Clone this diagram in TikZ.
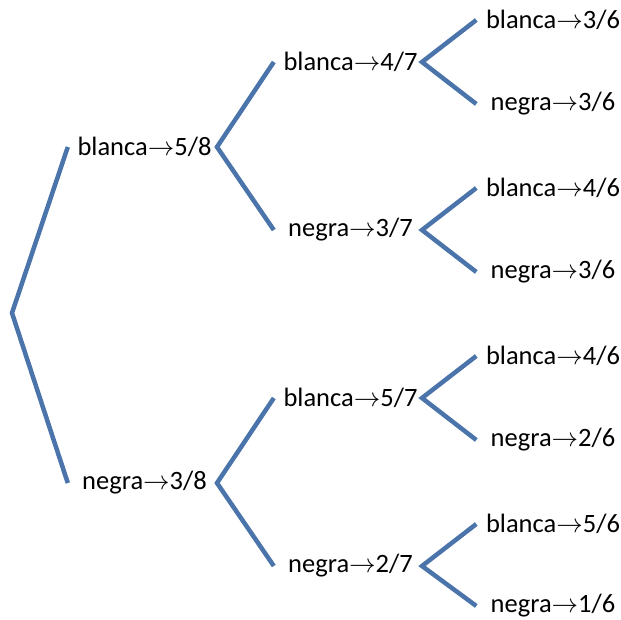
\RequirePackage{fix-cm}
\documentclass[tikz,border=0pt]{standalone}
\usepackage{fontspec}
\setmainfont{Carlito}
\definecolor{branch}{RGB}{74,116,170}
\newcommand{\giveArrow}{$\rightarrow$}
\begin{document}
\begin{tikzpicture}[x=1pt,y=-1pt,
  edge/.style={draw=branch,line width=4.5pt,line join=miter},
  lbl/.style={inner sep=0pt,minimum width=153pt,align=center,
    font=\fontsize{26.5}{30}\selectfont}]
\useasboundingbox (0,0) rectangle (621,620);
% branching points
\coordinate (r)  at (12,313);
\coordinate (vb) at (217,147);
\coordinate (vn) at (217,483);
\coordinate (vbb) at (422,62);
\coordinate (vbn) at (422,230);
\coordinate (vnb) at (422,398);
\coordinate (vnn) at (422,566);
% first draw
\node[lbl] (b)  at (144.5,147) {blanca\giveArrow5/8};
\node[lbl] (n)  at (144.5,483) {negra\giveArrow3/8};
% second draw
\node[lbl] (bb) at (350.5,62)  {blanca\giveArrow4/7};
\node[lbl] (bn) at (350.5,230) {negra\giveArrow3/7};
\node[lbl] (nb) at (350.5,398) {blanca\giveArrow5/7};
\node[lbl] (nn) at (350.5,566) {negra\giveArrow2/7};
% third draw
\node[lbl] (bbb) at (553,20)  {blanca\giveArrow3/6};
\node[lbl] (bbn) at (553,104) {negra\giveArrow3/6};
\node[lbl] (bnb) at (553,188) {blanca\giveArrow4/6};
\node[lbl] (bnn) at (553,272) {negra\giveArrow3/6};
\node[lbl] (nbb) at (553,356) {blanca\giveArrow4/6};
\node[lbl] (nbn) at (553,440) {negra\giveArrow2/6};
\node[lbl] (nnb) at (553,524) {blanca\giveArrow5/6};
\node[lbl] (nnn) at (553,606) {negra\giveArrow1/6};
% branches
\draw[edge] (b.west) -- (r) -- (n.west);
\draw[edge] (bb.west) -- (vb) -- (bn.west);
\draw[edge] (nb.west) -- (vn) -- (nn.west);
\draw[edge] (bbb.west) -- (vbb) -- (bbn.west);
\draw[edge] (bnb.west) -- (vbn) -- (bnn.west);
\draw[edge] (nbb.west) -- (vnb) -- (nbn.west);
\draw[edge] (nnb.west) -- (vnn) -- (nnn.west);
\end{tikzpicture}
\end{document}
